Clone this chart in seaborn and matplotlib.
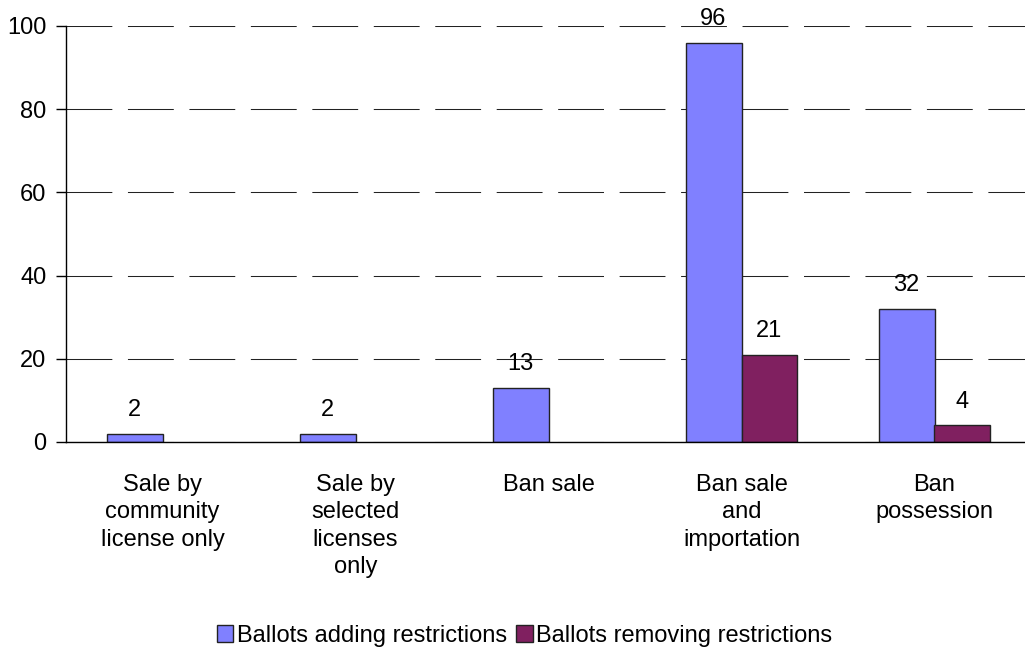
import numpy as np
import pandas as pd
import matplotlib
matplotlib.use("Agg")
import matplotlib.pyplot as plt
import seaborn as sns

categories = [
    "Sale by\ncommunity\nlicense only",
    "Sale by\nselected\nlicenses\nonly",
    "Ban sale",
    "Ban sale\nand\nimportation",
    "Ban\npossession",
]
series_names = ["Ballots adding restrictions", "Ballots removing restrictions"]
adding = [2, 2, 13, 96, 32]
removing = [None, None, None, 21, 4]
y_ticks = [0, 20, 40, 60, 80, 100]
colors = ["#8080FF", "#802060"]

sns.set_theme(style="white")
plt.rcParams["font.family"] = ["Liberation Sans", "DejaVu Sans"]
plt.rcParams["text.color"] = "black"
plt.rcParams["xtick.color"] = "black"
plt.rcParams["ytick.color"] = "black"
plt.rcParams["axes.labelcolor"] = "black"

FS = 17

rows = []
for cat, a, r in zip(categories, adding, removing):
    if a is not None:
        rows.append({"category": cat, "series": series_names[0], "value": a})
    if r is not None:
        rows.append({"category": cat, "series": series_names[1], "value": r})
df = pd.DataFrame(rows)

fig = plt.figure(figsize=(10.25, 6.55), dpi=100)
ax = fig.add_axes([66 / 1025, 213 / 655, 965 / 1025, 416 / 655])

sns.barplot(
    data=df, x="category", y="value", hue="series",
    order=categories, hue_order=series_names,
    palette=colors, width=0.58, edgecolor="#222222", linewidth=1.0,
    saturation=1, ax=ax, legend=True, zorder=3,
)

for cont in ax.containers:
    ax.bar_label(cont, fmt="%d", padding=9, fontsize=FS, color="black")

ax.set_xlim(-0.5, len(categories) - 0.5)
ax.set_ylim(0, 100)
ax.set_yticks(y_ticks)
ax.set_yticklabels([str(v) for v in y_ticks], fontsize=FS)
ax.set_xlabel("")
ax.set_ylabel("")

# category labels sit at the centres; short ticks mark the boundaries
ax.set_xticks(range(len(categories)))
ax.set_xticklabels(categories, fontsize=FS, va="top", linespacing=1.32)
ax.tick_params(axis="x", which="major", length=0, pad=23)
ax.set_xticks(np.arange(-0.5, len(categories)), minor=True)
ax.tick_params(axis="x", which="minor", direction="inout", length=14, width=1, color="black")
ax.tick_params(axis="y", which="major", direction="out", length=7, width=1, color="black", pad=7, left=True)

for side in ["top", "right"]:
    ax.spines[side].set_visible(False)
for side in ["left", "bottom"]:
    ax.spines[side].set_color("black")
    ax.spines[side].set_linewidth(1)
    ax.spines[side].set_zorder(4)

ax.yaxis.grid(True, color="#222222", linewidth=0.75, linestyle=(0, (44, 15)), zorder=0)
ax.xaxis.grid(False)

handles, labels = ax.get_legend_handles_labels()
ax.legend(
    handles, labels, loc="lower center", bbox_to_anchor=(0.5 - 24 / 965, -0.515),
    ncol=2, frameon=False, fontsize=FS, handlelength=0.7, handleheight=0.7,
    handletextpad=0.15, columnspacing=0.4, borderaxespad=0,
)

fig.savefig("out.png", dpi=100)
